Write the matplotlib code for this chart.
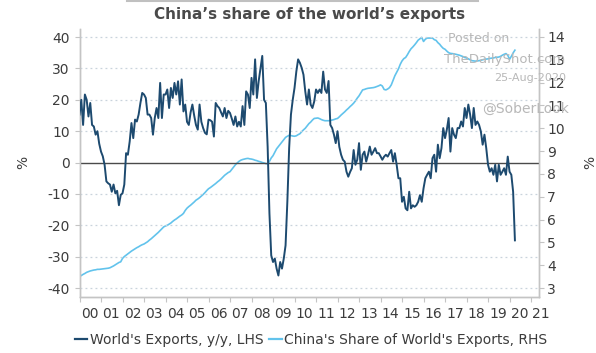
import numpy as np
import matplotlib
matplotlib.use("Agg")
import matplotlib.pyplot as plt
from matplotlib.lines import Line2D
from matplotlib.transforms import ScaledTranslation

# ---------------- data (monthly, Jan-2000 .. Apr-2020) ----------------
start_year = 2000
world_exports_yoy = [
    # 2000
    15.3, 20, 12, 21.7, 20, 14.7, 19, 12, 11.5, 8.9, 10, 6,
    # 2001
    3.5, 2, -0.7, -6, -6.6, -7, -9.3, -7, -9.8, -9, -13.6, -10.3,
    # 2002
    -9.8, -7, 3, 2.5, 6.7, 12.6, 7.8, 13.7, 13.1, 15.3, 19, 22.2,
    # 2003
    21.7, 20.6, 15.3, 15.3, 14.2, 8.9, 14.2, 17.4, 14.2, 25.4, 14.2, 21.7,
    # 2004
    21.7, 23.3, 17.4, 23.8, 20.6, 25.4, 21.7, 25.9, 18.5, 26.5, 16.3, 18.5,
    # 2005
    13, 12, 16, 18.5, 15, 12, 10.5, 18.5, 13, 11, 9.5, 9,
    # 2006
    13.7, 13.5, 13, 8.3, 19, 18, 17.4, 16, 14.7, 17.4, 14.2, 16.5,
    # 2007
    15.8, 14, 12, 14.7, 11.5, 13, 11.5, 18, 12, 22.7, 21.7, 17.4,
    # 2008
    27, 21.7, 32.9, 20.6, 26, 30, 34, 20, 19, 5, -16.2, -29.6,
    # 2009
    -31.7, -30.6, -33.8, -36, -31.7, -33.8, -30.6, -26.4, -12.4, 4.6, 15.3, 20,
    # 2010
    23.8, 29, 32.9, 31.8, 30.2, 28, 22.7, 18.5, 23.3, 18.5, 17.4, 19.5,
    # 2011
    23.3, 22.2, 23.3, 22.2, 29, 23.3, 22.2, 26, 12, 11, 8.9, 6.2,
    # 2012
    10, 5, 2.5, 0.9, 0.3, -2.9, -4.5, -3, -1.8, 4, -0.7, 0.9,
    # 2013
    6.2, -2.3, 2.5, 3.5, 0.3, 2.5, 5.1, 2.5, 3.5, 4.6, 3, 3,
    # 2014
    2, 0.9, 1.9, 2.5, 1.9, 3, 4, 0.3, 3, -0.7, -5, -5,
    # 2015
    -12.5, -10.9, -14.6, -15.2, -9.3, -14.6, -13.6, -14.1, -13.6, -12.5, -10.4, -12.5,
    # 2016
    -8.2, -5, -3.9, -2.9, -5, 1.4, 2.5, -2.9, 5.7, 1.4, 4.6, 11,
    # 2017
    7.8, 10.5, 14.2, 3.5, 11, 8.9, 7.8, 11, 11, 13.1, 11.5, 17.4,
    # 2018
    14.2, 18.5, 15.3, 11, 17.4, 12, 13.1, 12, 9.9, 5.7, 8.9, 4.6,
    # 2019
    -0.7, -2.9, -1.8, -3.9, -0.7, -6, -0.7, -3.9, -2.9, -1.8, -3.9, 1.9,
    # 2020
    -2.9, -3.9, -9.3, -24.8,
]

china_share = [
    # 2000
    3.5, 3.55, 3.6, 3.64, 3.69, 3.72, 3.75, 3.77, 3.79, 3.8, 3.82, 3.82,
    # 2001
    3.83, 3.84, 3.85, 3.86, 3.87, 3.89, 3.93, 3.97, 4.02, 4.07, 4.12, 4.15,
    # 2002
    4.3, 4.38, 4.44, 4.5, 4.56, 4.62, 4.67, 4.72, 4.77, 4.81, 4.86, 4.9,
    # 2003
    4.93, 4.98, 5.03, 5.1, 5.16, 5.23, 5.3, 5.37, 5.44, 5.52, 5.6, 5.68,
    # 2004
    5.72, 5.75, 5.8, 5.85, 5.92, 5.98, 6.03, 6.09, 6.15, 6.2, 6.27, 6.4,
    # 2005
    6.5, 6.57, 6.63, 6.7, 6.77, 6.85, 6.9, 6.96, 7.03, 7.1, 7.18, 7.27,
    # 2006
    7.35, 7.4, 7.46, 7.52, 7.58, 7.65, 7.71, 7.78, 7.86, 7.94, 8.0, 8.06,
    # 2007
    8.1, 8.2, 8.3, 8.4, 8.48, 8.55, 8.6, 8.63, 8.65, 8.67, 8.68, 8.66,
    # 2008
    8.65, 8.63, 8.6, 8.58, 8.55, 8.53, 8.5, 8.48, 8.45, 8.44, 8.55, 8.7,
    # 2009
    8.8, 8.95, 9.1, 9.2, 9.3, 9.4, 9.5, 9.6, 9.65, 9.69, 9.68, 9.66,
    # 2010
    9.65, 9.67, 9.72, 9.76, 9.85, 9.93, 10.0, 10.1, 10.2, 10.27, 10.36, 10.43,
    # 2011
    10.44, 10.45, 10.42, 10.38, 10.35, 10.33, 10.33, 10.33, 10.34, 10.36, 10.38, 10.41,
    # 2012
    10.43, 10.5, 10.58, 10.65, 10.72, 10.8, 10.87, 10.95, 11.02, 11.1, 11.2, 11.32,
    # 2013
    11.42, 11.55, 11.68, 11.7, 11.73, 11.75, 11.76, 11.77, 11.78, 11.8, 11.83, 11.86,
    # 2014
    11.9, 11.85, 11.7, 11.68, 11.72, 11.78, 11.9, 12.1, 12.3, 12.45, 12.6, 12.8,
    # 2015
    12.95, 13.05, 13.1, 13.22, 13.36, 13.48, 13.56, 13.65, 13.75, 13.86, 13.92, 13.98,
    # 2016
    13.8, 13.9, 13.95, 13.95, 13.95, 13.95, 13.88, 13.85, 13.75, 13.68, 13.58, 13.5,
    # 2017
    13.46, 13.38, 13.31, 13.28, 13.27, 13.26, 13.24, 13.22, 13.2, 13.17, 13.14, 13.1,
    # 2018
    13.08, 13.04, 13.0, 12.96, 12.95, 12.94, 12.95, 12.96, 12.98, 13.0, 13.02, 13.03,
    # 2019
    13.04, 13.06, 13.07, 13.08, 13.1, 13.11, 13.12, 13.15, 13.2, 13.24, 13.27, 13.2,
    # 2020
    13.02, 13.15, 13.3, 13.42,
]

year_ticks = list(range(2000, 2022))
year_labels = [f"{y % 100:02d}" for y in year_ticks]
left_ticks = [-40, -30, -20, -10, 0, 10, 20, 30, 40]
right_ticks = list(range(3, 15))

title = "China\u2019s share of the world\u2019s exports"
label_lhs = "World's Exports, y/y, LHS"
label_rhs = "China's Share of World's Exports, RHS"

# ---------------- styling ----------------
DARK = "#1d4a6f"
LIGHT = "#62c3ec"
SPINE = "#c4c4c4"
TXT = "#3c3c3c"
plt.rcParams["font.family"] = ["DejaVu Sans"]

fig = plt.figure(figsize=(5.96, 3.53), dpi=100)
ax = fig.add_axes([0.1334, 0.160, 0.7706, 0.758])
ax2 = ax.twinx()

x1 = start_year + np.arange(len(world_exports_yoy)) / 12.0
x2 = start_year + np.arange(len(china_share)) / 12.0

ax.set_xlim(2000, 2021.36)
ax.set_ylim(-42.7, 42.6)
ax2.set_ylim(2.63, 14.35)

# grid + zero line
for v in left_ticks:
    if v != 0:
        ax.axhline(v, color="#c9d3dc", lw=0.9, ls=(0, (1.5, 2.5)), zorder=0)
ax.axhline(0, color="#4a4a4a", lw=1.0, zorder=1)

ax2.plot(x2, china_share, color=LIGHT, lw=1.2, zorder=2)
ax.plot(x1, world_exports_yoy, color=DARK, lw=1.4, zorder=3)
ax.set_zorder(ax2.get_zorder() + 1)
ax.patch.set_visible(False)

# ticks
ax.set_yticks(left_ticks)
ax.set_yticklabels([str(v) for v in left_ticks])
ax2.set_yticks(right_ticks)
ax2.set_yticklabels([str(v) for v in right_ticks])
ax.set_xticks(year_ticks)
ax.set_xticklabels(year_labels)

ax.tick_params(axis="y", colors=SPINE, labelcolor=TXT, labelsize=10, length=3.5, pad=3.5)
ax2.tick_params(axis="y", colors=SPINE, labelcolor=TXT, labelsize=10, length=3.5, pad=2.5)
ax.tick_params(axis="x", colors=SPINE, labelcolor=TXT, labelsize=10, length=3.5, pad=4)
off = ScaledTranslation(10 / 100, 0, fig.dpi_scale_trans)
for lab in ax.get_xticklabels():
    lab.set_transform(lab.get_transform() + off)

for a in (ax, ax2):
    for s in a.spines.values():
        s.set_color(SPINE)
        s.set_linewidth(1.0)
    a.spines["top"].set_visible(False)

ax.set_ylabel("%", color=TXT, fontsize=10)
ax.yaxis.set_label_coords(-0.108, 0.5)
ax2.set_ylabel("%", color=TXT, fontsize=10)
ax2.yaxis.set_label_coords(1.096, 0.5)

# title
fig.add_artist(Line2D([127 / 596, 478 / 596], [0.997, 0.997], color="#c0c0c0", lw=1.5))
fig.text(0.52, 0.958, title, ha="center", va="center", fontsize=11,
         fontweight="bold", color="#4a4a4a")

# watermark
wm = "#b8b8b8"
fig.text(479 / 596, 1 - 38 / 353, "Posted on", ha="center", va="center", fontsize=9, color=wm)
fig.text(505 / 596, 1 - 59 / 353, "TheDailyShot.com", ha="center", va="center", fontsize=9.5, color=wm)
fig.text(530 / 596, 1 - 78 / 353, "25-Aug-2020", ha="center", va="center", fontsize=8, color=wm)
fig.text(526 / 596, 1 - 109 / 353, "@SoberLook", ha="center", va="center", fontsize=10, color=wm)

# legend
handles = [Line2D([], [], color=DARK, lw=1.6), Line2D([], [], color=LIGHT, lw=1.6)]
fig.legend(handles, [label_lhs, label_rhs], loc="center", bbox_to_anchor=(0.522, 0.037),
           ncol=2, frameon=False, fontsize=10, handlelength=0.9, handletextpad=0.2,
           columnspacing=0.4, labelcolor=TXT)

fig.savefig("out.png", dpi=100)
